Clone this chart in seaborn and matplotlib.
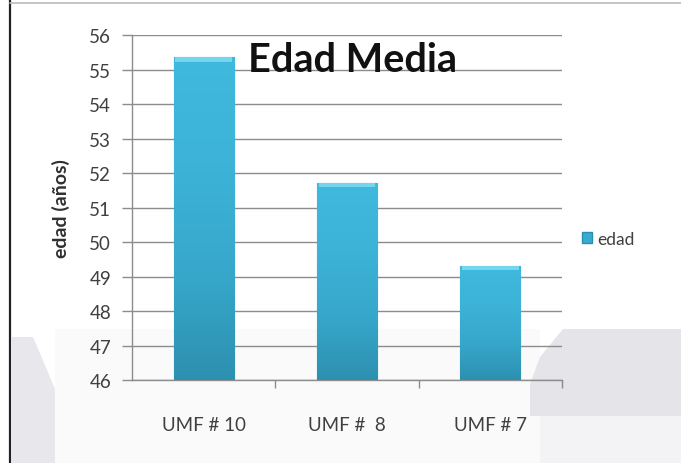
import matplotlib
matplotlib.use("Agg")
import matplotlib.pyplot as plt
from matplotlib.patches import Polygon
from matplotlib.lines import Line2D
from matplotlib.colors import LinearSegmentedColormap
import numpy as np
import seaborn as sns
import pandas as pd

# Data
unidades = ["UMF # 10", "UMF #  8", "UMF # 7"]
edad_media = [55.35, 51.71, 49.30]
y_ticks = [46, 47, 48, 49, 50, 51, 52, 53, 54, 55, 56]

df = pd.DataFrame({"unidad": unidades, "edad": edad_media})

sns.set_style("white")
plt.rcParams["font.family"] = ["Lato", "DejaVu Sans"]

fig = plt.figure(figsize=(6.81, 4.64), dpi=100)
fig.patch.set_facecolor("white")

# Page decoration behind the chart: soft grey panels and frame lines
bg = fig.add_axes([0, 0, 1, 1], zorder=-10)
bg.set_xlim(0, 681)
bg.set_ylim(464, 0)
bg.axis("off")
bg.add_patch(Polygon([[55, 464], [55, 330], [540, 330], [540, 464]],
                     closed=True, color="#fafafb", lw=0))
bg.add_patch(Polygon([[12, 338], [33, 338], [55, 390], [55, 464], [12, 464]],
                     closed=True, color="#e7e7ec", lw=0))
bg.add_patch(Polygon([[563, 330], [681, 330], [681, 417], [530, 417],
                      [530, 385], [540, 358]],
                     closed=True, color="#e4e4e9", lw=0))
bg.add_patch(Polygon([[540, 417], [681, 417], [681, 464], [540, 464]],
                     closed=True, color="#f3f3f5", lw=0))
bg.add_line(Line2D([10, 10], [0, 464], color="#222222", lw=1.6))
bg.add_line(Line2D([10, 681], [4, 4], color="#bbbbbb", lw=1.2))

ax = fig.add_axes([132 / 681, 1 - 381 / 464, 430 / 681, 345 / 464])
ax.set_facecolor("none")

sns.barplot(data=df, x="unidad", y="edad", color="#38acd0", saturation=1,
            width=0.42, edgecolor="#2a8fae", linewidth=0.8, ax=ax, zorder=3)

ax.set_ylim(46, 56)
ax.set_xlim(-0.5, 2.5)

# Vertical shading inside each bar, plus a lighter rim on top
shade = LinearSegmentedColormap.from_list(
    "shade", ["#2d90b0", "#37a8cb", "#3cb3d7", "#40b9de"])
grad = np.linspace(0, 1, 256).reshape(-1, 1)
for patch in list(ax.patches):
    x0 = patch.get_x()
    w = patch.get_width()
    top = patch.get_y() + patch.get_height()
    im = ax.imshow(grad, cmap=shade, origin="lower", aspect="auto",
                   extent=[x0, x0 + w, 46, top], zorder=3.5)
    im.set_clip_path(patch)
    ax.bar(x0 + w / 2, 0.12, bottom=top - 0.12, width=w * 0.94,
           color="#74d6ee", lw=0, zorder=4)

ax.set_xlim(-0.5, 2.5)
ax.set_ylim(46, 56)
ax.set_yticks(y_ticks)
for v in y_ticks:
    ax.axhline(v, color="#8c8c8c", lw=1.0, zorder=1)

for side in ["top", "right"]:
    ax.spines[side].set_visible(False)
for side in ["left", "bottom"]:
    ax.spines[side].set_color("#8c8c8c")
    ax.spines[side].set_linewidth(1.0)

ax.tick_params(axis="y", which="major", length=7, width=1.0, color="#8c8c8c",
               labelsize=13.5, labelcolor="#404040", pad=8, left=True)
ax.set_xticks([0, 1, 2])
ax.set_xticklabels(unidades)
ax.set_xticks([0.5, 1.5, 2.5], minor=True)
ax.tick_params(axis="x", which="major", length=0, labelsize=13.5,
               labelcolor="#404040", pad=26)
ax.tick_params(axis="x", which="minor", length=6, width=1.0,
               color="#8c8c8c", bottom=True)

ax.set_xlabel("")
ax.set_ylabel("edad (años)", fontsize=14, fontweight="bold",
              color="#303030", labelpad=14)

ax.text(0.31, 54.96, "Edad Media", fontsize=28.5, fontweight="bold",
        color="#111111", ha="left", va="baseline", zorder=5)

# Legend entry on the right
handle = plt.Rectangle((0, 0), 1, 1, facecolor="#38acd0",
                       edgecolor="#2a8fae")
fig.legend([handle], ["edad"], loc="center left",
           bbox_to_anchor=(566 / 681, 1 - 240 / 464), frameon=False,
           fontsize=12.5, handlelength=0.6, handleheight=0.6,
           handletextpad=0.3, labelcolor="#404040")

fig.savefig("out.png", dpi=100, facecolor=fig.get_facecolor())
